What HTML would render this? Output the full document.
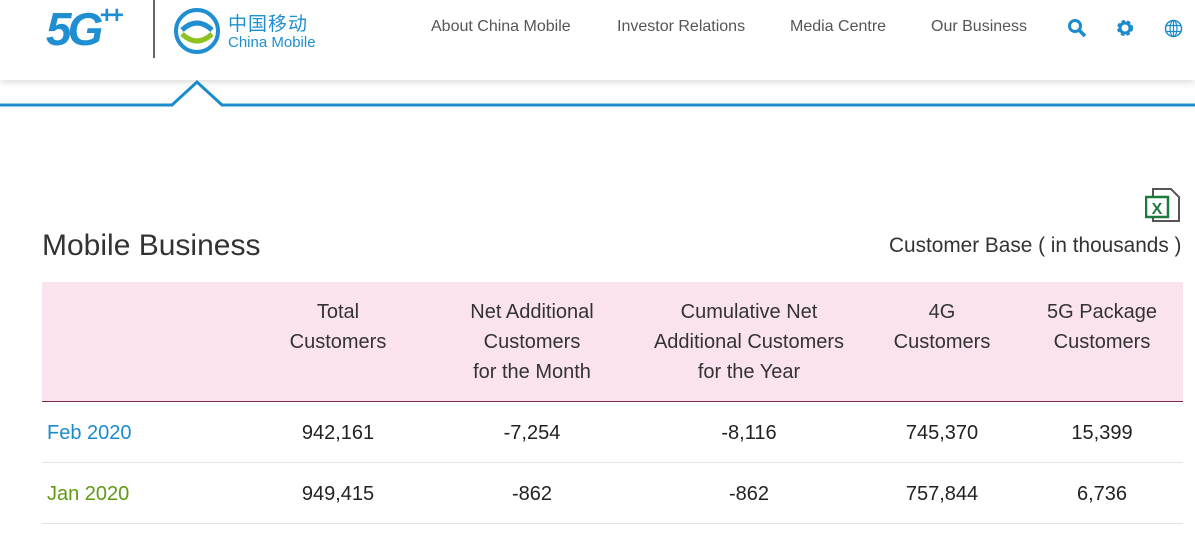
<!DOCTYPE html>
<html><head><meta charset="utf-8">
<style>
body{margin:0;width:1195px;height:543px;background:#fff;font-family:"Liberation Sans","Noto Sans CJK SC",sans-serif;position:relative;overflow:hidden;color:#333}
.a{position:absolute}
.nav{font-size:16px;color:#555;top:18px}
.hd{position:absolute;top:297px;font-size:20px;color:#333;text-align:center;line-height:30px;transform:translateX(-50%);white-space:nowrap}
.cell{position:absolute;font-size:20px;color:#222;transform:translateX(-50%);white-space:nowrap}
</style></head><body>
<div class="a" style="left:0;top:0;width:1195px;height:80px;background:#fff;box-shadow:0 3px 6px rgba(0,0,0,0.12)"></div>
<svg class="a" style="left:0;top:78px" width="1195" height="32">
<path d="M0 27 L172 27 L197 4 L222 27 L1195 27" fill="#fff" stroke="#1a8ccc" stroke-width="3"/>
<rect x="0" y="29" width="1195" height="3" fill="#fff"/>
</svg>
<div class="a" style="left:46px;top:2px;font-size:46px;font-weight:bold;font-style:italic;color:#1f8fd1;letter-spacing:-4px">5G<span style="font-size:24px;vertical-align:top">++</span></div>
<div class="a" style="left:153px;top:0;width:2px;height:58px;background:#666"></div>
<svg class="a" style="left:174px;top:8px" width="46" height="46" viewBox="0 0 46 46">
<circle cx="23" cy="23" r="21" fill="none" stroke="#1f8fd1" stroke-width="4"/>
<path d="M8 22 Q23 8 38 22" fill="none" stroke="#1f8fd1" stroke-width="5"/>
<path d="M8 26 Q23 40 38 26" fill="none" stroke="#8dc21f" stroke-width="5"/>
</svg>
<div class="a" style="left:228px;top:9px;font-size:19px;color:#1f8fd1;letter-spacing:1px">中国移动</div>
<div class="a" style="left:228px;top:34px;font-size:15px;color:#1f8fd1">China Mobile</div>
<div class="a nav" style="left:431px">About China Mobile</div>
<div class="a nav" style="left:617px">Investor Relations</div>
<div class="a nav" style="left:790px">Media Centre</div>
<div class="a nav" style="left:931px">Our Business</div>
<svg class="a" style="left:1067px;top:18px" width="20" height="20"><circle cx="8" cy="8" r="5.5" fill="none" stroke="#1a8ccc" stroke-width="3"/><path d="M12 12 L18 18" stroke="#1a8ccc" stroke-width="3.5"/></svg>
<svg class="a" style="left:1115px;top:18px" width="20" height="20"><circle cx="10" cy="10" r="6" fill="none" stroke="#1a8ccc" stroke-width="4" stroke-dasharray="3 2"/><circle cx="10" cy="10" r="5" fill="none" stroke="#1a8ccc" stroke-width="3"/></svg>
<svg class="a" style="left:1164px;top:19px" width="19" height="19"><circle cx="9.5" cy="9.5" r="8" fill="none" stroke="#1a8ccc" stroke-width="1.5"/><ellipse cx="9.5" cy="9.5" rx="3.5" ry="8" fill="none" stroke="#1a8ccc" stroke-width="1.2"/><path d="M1.5 6.5H17.5M1.5 12.5H17.5M9.5 1.5V17.5" stroke="#1a8ccc" stroke-width="1.2"/></svg>
<svg class="a" style="left:1145px;top:187px" width="38" height="37"><path d="M8 2 H26 L34 10 V34 H8 Z" fill="#fff" stroke="#555" stroke-width="2"/><rect x="1" y="10" width="22" height="20" fill="#fff" stroke="#1e7a3c" stroke-width="2.5"/><text x="12" y="27" font-size="16" font-weight="bold" fill="#1e7a3c" text-anchor="middle" font-family="Liberation Sans">X</text></svg>
<div class="a" style="left:42px;top:229px;font-size:30px;color:#333">Mobile Business</div>
<div class="a" style="left:889px;top:234px;font-size:20.8px;color:#333">Customer Base ( in thousands )</div>
<div class="a" style="left:42px;top:282px;width:1141px;height:119px;background:#fae3ef;border-bottom:1px solid #7a2a50"></div>
<div id="tbl"></div>
<script>
const headers=["Total<br>Customers","Net Additional<br>Customers<br>for the Month","Cumulative Net<br>Additional Customers<br>for the Year","4G<br>Customers","5G Package<br>Customers"];
const months=["Feb 2020","Jan 2020"];
const totalCustomers=[942161,949415];
const netMonth=[-7254,-862];
const netYear=[-8116,-862];
const fourG=[745370,757844];
const fiveG=[15399,6736];
const colX=[338,532,749,942,1102];
const monthColors=["#1a8ccc","#5f9a12"];
const tbl=document.getElementById('tbl');
headers.forEach((h,i)=>{const d=document.createElement('div');d.className='hd';d.style.left=colX[i]+'px';d.innerHTML=h;


tbl.appendChild(d);});
const fmt=v=>v.toLocaleString('en-US');
months.forEach((m,r)=>{const y=422+r*61;
const md=document.createElement('div');md.className='a';md.style.cssText=`left:47px;top:${y}px;font-size:20px;color:${monthColors[r]}`;md.textContent=m;


tbl.appendChild(md);
[totalCustomers[r],netMonth[r],netYear[r],fourG[r],fiveG[r]].forEach((v,c)=>{const d=document.createElement('div');d.className='cell';d.style.left=colX[c]+'px';d.style.top=y+'px';d.textContent=fmt(v);


tbl.appendChild(d);});
const ln=document.createElement('div');ln.className='a';ln.style.cssText=`left:42px;top:${422+r*61+40}px;width:1141px;height:1px;background:#e2e2e2`;


tbl.appendChild(ln);});
</script>
</body></html>
